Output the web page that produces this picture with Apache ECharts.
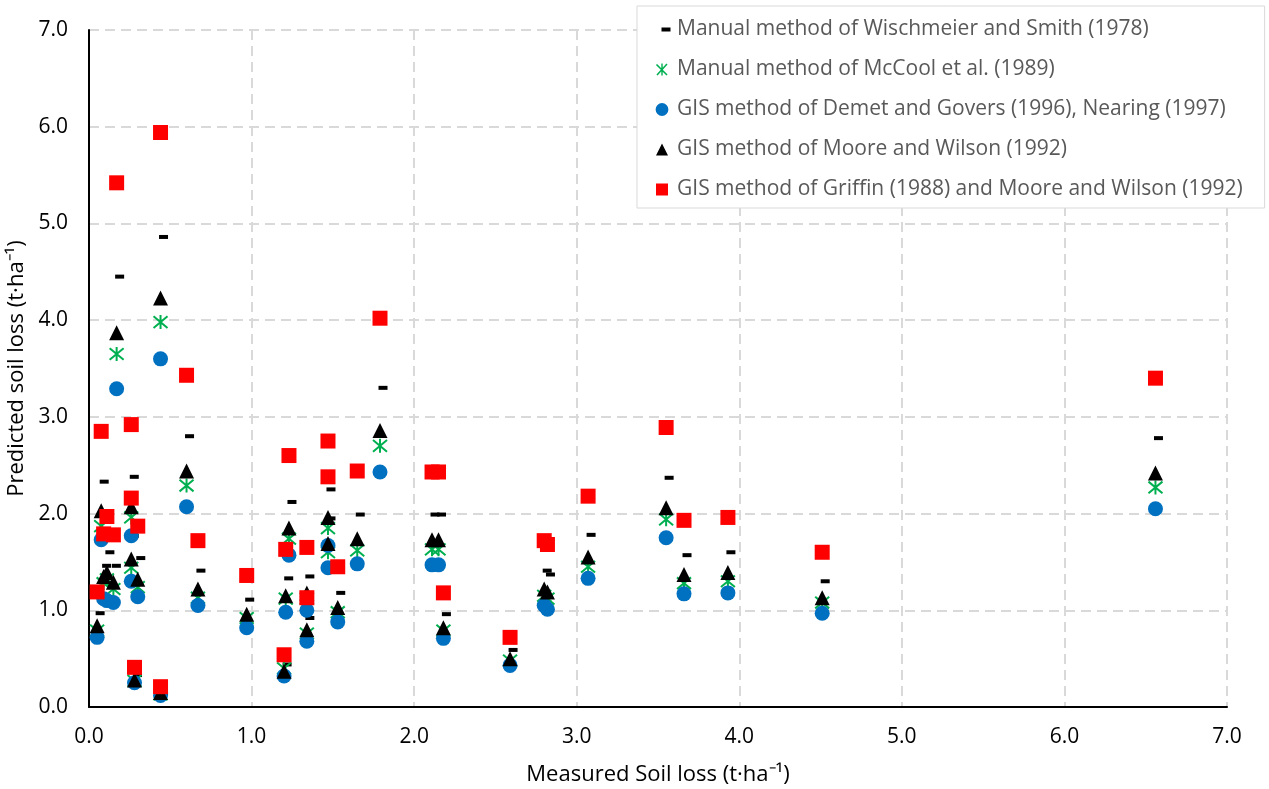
<!DOCTYPE html>
<html>
<head>
<meta charset="utf-8">
<script src="https://cdn.jsdelivr.net/npm/echarts@6/dist/echarts.min.js"></script>
<style>
  html, body { margin: 0; padding: 0; background: #fff; }
  #echart { width: 1269px; height: 789px; }
</style>
</head>
<body>
<div id="echart"></div>
<script>
// measured soil loss (t/ha) per plot
var measured = [0.05, 0.075, 0.09, 0.11, 0.15, 0.17, 0.26, 0.26, 0.30, 0.28, 0.44, 0.44, 0.60, 0.67,
  0.97, 1.20, 1.21, 1.23, 1.34, 1.34, 1.47, 1.47, 1.53, 1.65, 1.79, 2.11, 2.15, 2.18, 2.59,
  2.80, 2.82, 3.07, 3.55, 3.66, 3.93, 4.51, 6.56];
var wischmeier = [0.97, 2.33, 1.46, 1.60, 1.46, 4.45, 2.38, 1.77, 1.54, 0.33, 4.86, 0.14, 2.80, 1.41,
  1.11, 0.44, 1.33, 2.12, 1.35, 0.92, 2.25, 1.95, 1.18, 1.99, 3.30, 1.99, 1.99, 0.96, 0.59,
  1.41, 1.37, 1.78, 2.37, 1.57, 1.60, 1.30, 2.78];
var mccool = [0.79, 1.87, 1.28, 1.32, 1.22, 3.65, 1.96, 1.44, 1.24, 0.27, 3.98, 0.13, 2.29, 1.13,
  0.92, 0.40, 1.12, 1.74, 1.12, 0.76, 1.85, 1.60, 0.98, 1.62, 2.70, 1.63, 1.63, 0.79, 0.48,
  1.15, 1.12, 1.45, 1.94, 1.28, 1.30, 1.08, 2.27];
var demet = [0.72, 1.73, 1.12, 1.10, 1.08, 3.29, 1.77, 1.30, 1.14, 0.25, 3.60, 0.12, 2.07, 1.05,
  0.82, 0.32, 0.98, 1.57, 1.00, 0.68, 1.67, 1.44, 0.88, 1.48, 2.43, 1.47, 1.47, 0.71, 0.43,
  1.05, 1.01, 1.33, 1.75, 1.17, 1.18, 0.97, 2.05];
var moore = [0.84, 2.03, 1.35, 1.39, 1.29, 3.87, 2.07, 1.53, 1.32, 0.28, 4.23, 0.15, 2.44, 1.22,
  0.96, 0.37, 1.15, 1.85, 1.18, 0.80, 1.96, 1.69, 1.03, 1.74, 2.86, 1.73, 1.73, 0.82, 0.50,
  1.22, 1.19, 1.55, 2.06, 1.37, 1.39, 1.13, 2.42];
var griffin = [1.19, 2.85, 1.79, 1.97, 1.78, 5.42, 2.92, 2.16, 1.87, 0.41, 5.94, 0.21, 3.43, 1.72,
  1.36, 0.54, 1.63, 2.60, 1.65, 1.13, 2.75, 2.38, 1.45, 2.44, 4.02, 2.43, 2.43, 1.18, 0.72,
  1.72, 1.68, 2.18, 2.89, 1.93, 1.96, 1.60, 3.40];

var names = [
  'Manual method of Wischmeier and Smith (1978)',
  'Manual method of McCool et al. (1989)',
  'GIS method of Demet and Govers (1996), Nearing (1997)',
  'GIS method of Moore and Wilson (1992)',
  'GIS method of Griffin (1988) and Moore and Wilson (1992)'
];

function pairs(vals) {
  return measured.map(function (x, i) { return [x, vals[i]]; });
}

var starPath = 'path://M0,0 L10,10 M10,0 L0,10 M5,-1 L5,11';
var font = '"Open Sans", "Liberation Sans", sans-serif';

// legend icons share a 20x14 box (tiny corner specks fix the box)
var box = 'M0,0h0.05v0.05h-0.05z M19.95,13.95h0.05v0.05h-0.05z ';
var icons = [
  'path://' + box + 'M9.5,5h9v4h-9z',
  'path://' + box + 'M9.3,1h1.4v12h-1.4z M5.07,1.43L15.57,11.93L14.43,13.07L3.93,2.57z M14.43,0.93L15.57,2.07L5.57,13.07L4.43,11.93z',
  'path://' + box + 'M3.6,7A6.4,6.4 0 1,0 16.4,7A6.4,6.4 0 1,0 3.6,7z',
  'path://' + box + 'M4,13L10,1L16,13z',
  'path://' + box + 'M4,1h12v12h-12z'
];
var iconColors = ['#000', '#00B050', '#0070C0', '#000', '#FF0000'];

var myChart = echarts.init(document.getElementById('echart'));
var option = {
  animation: false,
  backgroundColor: '#fff',
  textStyle: { fontFamily: font },
  grid: { left: 89, right: 42, top: 30, bottom: 82, outerBoundsMode: 'none', containLabel: false },
  legend: {
    orient: 'vertical',
    left: 637,
    top: 6,
    padding: [13, 22, 8, 15],
    itemWidth: 20,
    itemHeight: 14,
    itemGap: 19,
    backgroundColor: '#fff',
    borderColor: '#D9D9D9',
    borderWidth: 1,
    textStyle: { fontSize: 21, color: '#595959', lineHeight: 20, fontFamily: font },
    data: names.map(function (n, i) {
      return { name: n, icon: icons[i], itemStyle: { color: iconColors[i], borderWidth: 0 } };
    })
  },
  xAxis: {
    type: 'value',
    min: 0, max: 7, interval: 1,
    name: 'Measured Soil loss (t·ha⁻¹)',
    nameLocation: 'middle',
    nameGap: 57,
    nameTextStyle: { fontSize: 22, color: '#000', fontFamily: font },
    axisLine: { show: true, onZero: false, lineStyle: { color: '#000', width: 2 } },
    axisTick: { show: false },
    axisLabel: { fontSize: 21, color: '#000', margin: 20, formatter: function (v) { return v.toFixed(1); } },
    splitLine: { show: true, lineStyle: { color: '#D9D9D9', width: 2, type: [10, 6] } }
  },
  yAxis: {
    type: 'value',
    min: 0, max: 7, interval: 1,
    name: 'Predicted soil loss (t·ha⁻¹)',
    nameLocation: 'middle',
    nameGap: 59,
    nameTextStyle: { fontSize: 22, color: '#000', fontFamily: font },
    axisLine: { show: true, onZero: false, lineStyle: { color: '#000', width: 2 } },
    axisTick: { show: false },
    axisLabel: { fontSize: 21, color: '#000', margin: 21, formatter: function (v) { return v.toFixed(1); } },
    splitLine: { show: true, lineStyle: { color: '#D9D9D9', width: 2, type: [10, 6] } }
  },
  series: [
    {
      name: names[0], type: 'scatter', data: pairs(wischmeier),
      symbol: 'rect', symbolSize: [9, 4], symbolOffset: [3, 0],
      itemStyle: { color: '#000', opacity: 1 }
    },
    {
      name: names[1], type: 'scatter', data: pairs(mccool),
      symbol: starPath, symbolSize: 14,
      itemStyle: { color: 'none', borderColor: '#00B050', borderWidth: 2, opacity: 1 }
    },
    {
      name: names[2], type: 'scatter', data: pairs(demet),
      symbol: 'circle', symbolSize: 15,
      itemStyle: { color: '#0070C0', opacity: 1 }
    },
    {
      name: names[3], type: 'scatter', data: pairs(moore),
      symbol: 'triangle', symbolSize: 15,
      itemStyle: { color: '#000', opacity: 1 }
    },
    {
      name: names[4], type: 'scatter', data: pairs(griffin),
      symbol: 'rect', symbolSize: 15,
      itemStyle: { color: '#FF0000', opacity: 1 }
    }
  ]
};
myChart.setOption(option);
</script>
</body>
</html>
